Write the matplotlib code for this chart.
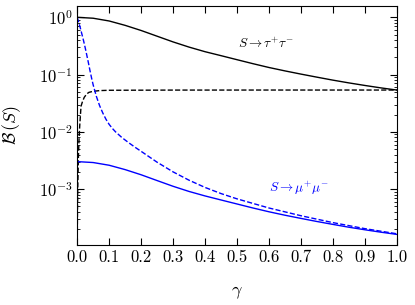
import matplotlib
matplotlib.use("Agg")
import matplotlib.pyplot as plt
import numpy as np
from matplotlib.ticker import LogLocator, NullFormatter, MultipleLocator, FormatStrFormatter

plt.rcParams["mathtext.fontset"] = "cm"
plt.rcParams["font.family"] = "serif"
plt.rcParams["font.serif"] = ["cmr10"]
plt.rcParams["axes.formatter.use_mathtext"] = True

# S -> tau+ tau- (solid) and the dashed companion
g_tau = [0.0, 0.05, 0.1, 0.15, 0.2, 0.25, 0.3, 0.35, 0.4, 0.45, 0.5, 0.55, 0.6, 0.65,
         0.7, 0.75, 0.8, 0.85, 0.9, 0.95, 1.0]
tau_solid = [1.0, 0.964, 0.863, 0.724, 0.589, 0.468, 0.372, 0.302, 0.251, 0.214, 0.182,
             0.155, 0.133, 0.116, 0.102, 0.0902, 0.080, 0.0716, 0.0646, 0.0586, 0.0537]

g_tau_d = [0.0, 0.001, 0.002, 0.004, 0.006, 0.008, 0.012, 0.016, 0.022, 0.03, 0.037,
           0.05, 0.07, 0.1, 0.3, 0.6, 1.0]
tau_dash = [1.0e-4, 5.0e-4, 1.2e-3, 4.0e-3, 8.0e-3, 1.3e-2, 2.8e-2, 3.3e-2, 4.0e-2, 4.6e-2,
            4.9e-2, 5.1e-2, 5.25e-2, 5.32e-2, 5.36e-2, 5.37e-2, 5.37e-2]

# S -> mu+ mu- (solid) and the dashed companion
g_mu = [0.0, 0.05, 0.1, 0.15, 0.2, 0.25, 0.3, 0.35, 0.4, 0.45, 0.5, 0.55, 0.6, 0.65,
        0.7, 0.75, 0.8, 0.85, 0.9, 0.95, 1.0]
mu_solid = [3.02e-3, 2.91e-3, 2.61e-3, 2.19e-3, 1.78e-3, 1.41e-3, 1.12e-3, 0.91e-3, 0.76e-3,
            0.646e-3, 0.55e-3, 0.468e-3, 0.402e-3, 0.350e-3, 0.308e-3, 0.272e-3, 0.242e-3,
            0.216e-3, 0.195e-3, 0.177e-3, 0.162e-3]

g_mu_d = [0.0, 0.005, 0.01, 0.015, 0.02, 0.025, 0.03, 0.035, 0.04, 0.045, 0.05, 0.06, 0.07,
          0.08, 0.09, 0.1, 0.11, 0.12, 0.14, 0.16, 0.18, 0.2, 0.25, 0.3, 0.35, 0.4, 0.45,
          0.5, 0.6, 0.7, 0.8, 0.9, 1.0]
mu_dash = [1.0, 0.813, 0.646, 0.501, 0.389, 0.295, 0.219, 0.162, 0.1175, 0.0871, 0.0661,
           0.0417, 0.0288, 0.0214, 0.0166, 0.0135, 0.01148, 0.0100, 0.00794, 0.00653, 0.00543,
           0.00457, 0.00295, 0.00200, 0.00143, 0.00107, 0.000836, 0.000676, 0.000468,
           0.000343, 0.000260, 0.000204, 0.000166]

fig = plt.figure(figsize=(4.15, 3.05), dpi=100)
ax = fig.add_axes([0.186, 0.197, 0.770, 0.783])

ax.plot(g_tau, tau_solid, color="black", lw=1.0)
ax.plot(g_tau_d, tau_dash, color="black", lw=1.0, ls="--")
ax.plot(g_mu, mu_solid, color="blue", lw=1.0)
ax.plot(g_mu_d, mu_dash, color="blue", lw=1.0, ls="--")

ax.set_yscale("log")
ax.set_xlim(0, 1)
ax.set_ylim(1.06e-4, 1.57)
ax.xaxis.set_major_locator(MultipleLocator(0.1))
ax.xaxis.set_major_formatter(FormatStrFormatter("%.1f"))
ax.yaxis.set_major_locator(LogLocator(base=10, numticks=10))
ax.yaxis.set_minor_locator(LogLocator(base=10, subs=np.arange(2, 10), numticks=10))
ax.yaxis.set_minor_formatter(NullFormatter())
ax.tick_params(which="both", direction="in", top=True, right=True, labelsize=12)
ax.tick_params(which="major", length=5, width=0.8)
ax.tick_params(which="minor", length=2.5, width=0.6)

ax.set_xlabel(r"$\gamma$", fontsize=13, labelpad=14)
ax.set_ylabel(r"$\mathcal{B}\,(S)$", fontsize=13)
ax.yaxis.set_label_coords(-0.17, 0.5)

ax.text(0.502, 0.844, r"$S\to\tau^{+}\tau^{-}$", transform=ax.transAxes, fontsize=9.5,
        color="black", va="center")
ax.text(0.601, 0.237, r"$S\to\mu^{+}\mu^{-}$", transform=ax.transAxes, fontsize=9.5,
        color="blue", va="center")

fig.savefig("out.png", dpi=100)
